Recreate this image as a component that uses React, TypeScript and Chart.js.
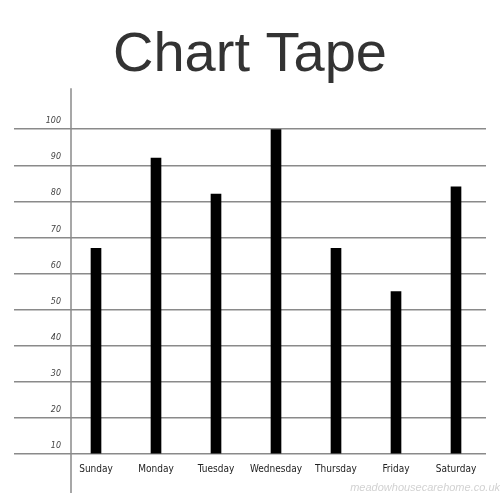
import { useEffect, useRef } from "react";
import { Chart, registerables, type Plugin } from "chart.js";

Chart.register(...registerables);

const titleText = "Chart Tape";
const watermarkText = "meadowhousecarehome.co.uk";
const days = ["Sunday", "Monday", "Tuesday", "Wednesday", "Thursday", "Friday", "Saturday"];
const values = [67, 92, 82, 100, 67, 55, 84];
const yTicks = [10, 20, 30, 40, 50, 60, 70, 80, 90, 100];

const lineGray = "#8a8a8a";

// the vertical axis runs above the top line and down past the day labels
const axisLine: Plugin<"bar"> = {
  id: "axisLine",
  beforeDatasetsDraw(chart) {
    const { ctx, chartArea } = chart;
    ctx.save();
    ctx.strokeStyle = lineGray;
    ctx.lineWidth = 1.5;
    ctx.beginPath();
    ctx.moveTo(chartArea.left + 5, chartArea.top - 41);
    ctx.lineTo(chartArea.left + 5, chartArea.bottom + 39);
    ctx.stroke();
    ctx.restore();
  },
};

function TapeChart() {
  const canvasRef = useRef<HTMLCanvasElement | null>(null);

  useEffect(() => {
    const canvas = canvasRef.current;
    if (!canvas) return;

    const chart = new Chart(canvas, {
      type: "bar",
      data: {
        labels: days,
        datasets: [
          {
            data: values,
            backgroundColor: "#000",
            barThickness: 10,
            base: 10,
          },
        ],
      },
      options: {
        animation: false,
        responsive: true,
        maintainAspectRatio: false,
        layout: { padding: { top: 0, left: 0, right: 0, bottom: 5 } },
        plugins: {
          legend: { display: false },
          tooltip: { enabled: false },
          title: {
            display: true,
            text: titleText,
            color: "#333",
            font: { family: "'Liberation Sans', Arial, sans-serif", size: 56, weight: "normal" },
            padding: { top: 22, bottom: 40 },
          },
          subtitle: {
            display: true,
            position: "bottom",
            align: "end",
            text: watermarkText,
            color: "#d2d2d2",
            font: { family: "'Liberation Sans', sans-serif", size: 11, style: "italic" },
            padding: { top: 5, bottom: 0 },
          },
        },
        scales: {
          x: {
            afterFit: (scale) => {
              scale.height = 22.8;
            },
            grid: { display: false, drawTicks: false },
            border: { display: false },
            ticks: {
              color: "#222",
              padding: 9.5,
              font: { family: "'Liberation Sans Narrow', 'DejaVu Sans Condensed', 'Liberation Serif', serif", size: 10 },
            },
          },
          y: {
            min: 10,
            max: 100,
            afterBuildTicks: (scale) => {
              scale.ticks = yTicks.map((value) => ({ value }));
            },
            afterFit: (scale) => {
              scale.width = 66;
            },
            grid: { color: lineGray, lineWidth: 1.5, tickLength: 52, drawTicks: true },
            border: { display: false },
            ticks: {
              color: "#444",
              padding: -47,
              labelOffset: -8,
              font: { family: "'DejaVu Sans', sans-serif", size: 8, style: "italic" },
            },
          },
          yPad: {
            type: "linear",
            axis: "y",
            position: "right",
            grid: { display: false },
            border: { display: false },
            ticks: { display: false },
            afterFit: (scale) => {
              scale.width = 14;
            },
          },
        },
      },
      plugins: [axisLine],
    });

    return () => chart.destroy();
  }, []);

  return <canvas ref={canvasRef} />;
}

export default function App() {
  return (
    <div style={{ position: "absolute", left: 0, top: 0, width: 500, height: 500, background: "#fff" }}>
      <TapeChart />
    </div>
  );
}
